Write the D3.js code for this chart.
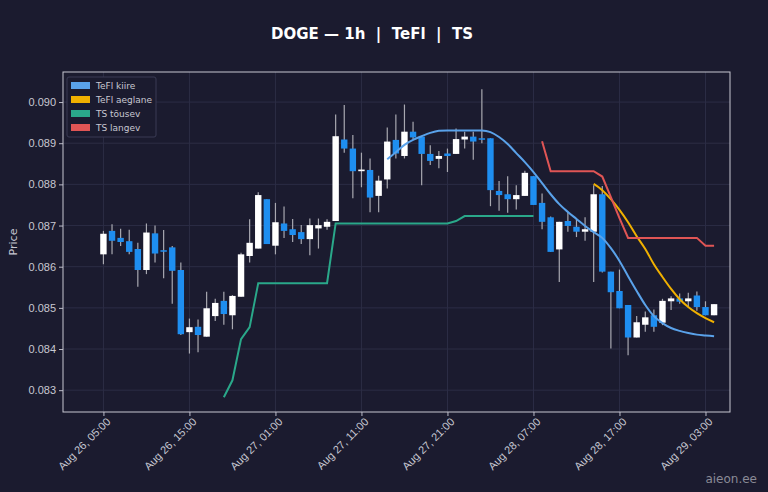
<!DOCTYPE html>
<html><head><meta charset="utf-8">
<script src="https://cdn.jsdelivr.net/npm/d3@7"></script>
<style>body{margin:0;background:#1b1b2f;}svg{display:block;font-family:"DejaVu Sans",sans-serif;}</style>
</head><body><svg id="c" width="768" height="492"></svg>
<script>
// candle index i = hours since Aug 26 05:00
const opens  = [.0863,.08687,.0867,.08662,.08643,.08592,.08681,.0864,.08647,.08592,.08441,.08454,.0843,.0848,.08517,.08482,.08527,.08626,.08644,.08764,.08651,.08705,.08691,.08684,.08667,.08693,.08697,.08711,.08909,.08887,.08832,.08835,.08772,.08812,.08908,.08869,.08928,.08916,.08874,.08862,.08875,.08874,.08909,.08916,.08912,.08912,.08784,.08776,.08764,.08772,.0882,.08755,.0872,.08642,.08711,.08697,.08685,.08685,.08776,.08588,.08541,.08507,.08428,.08459,.08482,.08464,.08516,.08523,.08516,.0853,.08502,.08482];
const highs  = [.08687,.08703,.08692,.0869,.08658,.08705,.087,.08689,.0865,.0861,.08474,.08472,.08539,.08522,.08539,.08531,.08634,.08715,.08781,.08764,.08755,.08746,.08716,.08701,.08717,.08717,.08715,.0897,.08993,.0892,.08877,.08863,.08821,.08938,.0897,.08994,.08952,.08916,.08895,.08881,.08887,.08936,.08928,.08928,.09031,.08912,.08808,.0882,.08798,.08833,.0882,.08778,.08722,.08709,.08734,.08717,.0872,.08798,.08796,.08588,.08593,.08507,.0848,.08491,.08496,.08522,.08528,.08535,.08537,.0854,.08516,.08509];
const lows   = [.08606,.0863,.0865,.0863,.08551,.08582,.0861,.08572,.0851,.08434,.08389,.08392,.0843,.08468,.08459,.08448,.08527,.0861,.08644,.08655,.0863,.0867,.0866,.08655,.08628,.08644,.0869,.08711,.08877,.08766,.08793,.08732,.08732,.0879,.08863,.08863,.0891,.08798,.08847,.08839,.0883,.08874,.08887,.0886,.089,.08747,.08736,.08731,.08739,.08772,.0875,.08691,.08636,.08563,.08685,.08672,.08663,.08563,.08586,.08401,.08499,.08385,.08428,.08442,.08442,.08458,.08495,.0851,.08501,.08493,.08482,.08482];
const closes = [.0868,.08663,.0866,.08636,.08592,.08683,.08632,.08639,.0859,.08436,.08453,.08434,.08499,.08512,.08485,.08529,.0863,.08658,.08774,.08655,.08708,.08687,.08677,.08667,.08701,.08701,.08709,.08917,.08887,.08832,.08836,.08768,.08809,.08904,.08875,.08928,.08914,.08874,.08857,.08869,.08869,.0891,.08916,.08904,.08911,.08786,.08774,.08764,.08774,.08828,.0875,.08709,.08636,.08709,.08699,.08685,.08691,.08776,.08588,.08538,.08499,.08428,.08465,.08477,.08454,.08517,.08523,.08515,.08523,.08502,.08482,.08509];
const tefiFastStart = 33;
const tefiFast = [.08861,.08878,.08896,.08908,.08917,.08925,.0893,.08931,.08931,.08931,.08931,.08931,.08927,.08915,.08898,.08876,.08854,.0883,.08803,.08776,.08752,.08733,.08716,.08699,.08684,.0867,.08645,.08614,.08577,.08541,.08507,.0848,.08463,.08451,.08444,.08439,.08435,.08433,.08431];
const tefiSlowStart = 57;
const tefiSlow = [.08801,.08786,.08764,.08738,.08708,.08674,.08643,.08606,.08575,.08546,.08521,.08502,.08487,.08475,.08465];
const tsUpStart = 14;
const tsUp = [.08283,.08324,.08424,.08453,.0856,.0856,.0856,.0856,.0856,.0856,.0856,.0856,.0856,.08705,.08705,.08705,.08705,.08705,.08705,.08705,.08705,.08705,.08705,.08705,.08705,.08705,.08705,.08711,.08723,.08723,.08723,.08723,.08723,.08723,.08723,.08723,.08723];
const tsDownStart = 51;
const tsDown = [.08905,.08832,.08832,.08832,.08832,.08832,.08832,.08819,.08769,.08718,.0867,.0867,.0867,.0867,.0867,.0867,.0867,.0867,.0867,.08651,.08651];
const xTickIdx = [0,10,20,30,40,50,60,70];
const xTickLabels = ["Aug 26, 05:00","Aug 26, 15:00","Aug 27, 01:00","Aug 27, 11:00","Aug 27, 21:00","Aug 28, 07:00","Aug 28, 17:00","Aug 29, 03:00"];
const yTicks = [.083,.084,.085,.086,.087,.088,.089,.090];
const legendNames = ["TeFl kiire","TeFl aeglane","TS tõusev","TS langev"];
const colors = ["#5aa2ea","#f0b000","#2aa88a","#e05555"];

const svg = d3.select("#c");
svg.append("rect").attr("width",768).attr("height",492).attr("fill","#1b1b2f");
const L=63,R=730,T=72,B=412;
const x = d3.scaleLinear().domain([-4.7,72.85]).range([L,R]);
const y = d3.scaleLinear().domain([.08247,.09073]).range([B,T]);
const g = svg.append("g");
// grid
g.selectAll(".gy").data(yTicks).join("line").attr("x1",L).attr("x2",R).attr("y1",d=>y(d)).attr("y2",d=>y(d)).attr("stroke","#2c2d45").attr("stroke-width",1);
g.selectAll(".gx").data(xTickIdx).join("line").attr("y1",T).attr("y2",B).attr("x1",d=>x(d)).attr("x2",d=>x(d)).attr("stroke","#2c2d45").attr("stroke-width",1);
// axes
const ya = svg.append("g").attr("transform",`translate(${L},0)`).call(d3.axisLeft(y).tickValues(yTicks).tickFormat(d3.format(".3f")).tickSize(4));
const xa = svg.append("g").attr("transform",`translate(0,${B})`).call(d3.axisBottom(x).tickValues(xTickIdx).tickFormat((d,i)=>xTickLabels[i]).tickSize(4));
[ya,xa].forEach(a=>{a.select(".domain").remove();a.selectAll("line").attr("stroke","#bbbbc8");a.selectAll("text").attr("fill","#c8c8d2").attr("font-size",11);});
xa.selectAll("text").attr("text-anchor","end").attr("dx","-0.2em").attr("dy","0.5em").attr("transform","rotate(-45)");
svg.append("rect").attr("x",L).attr("y",T).attr("width",R-L).attr("height",B-T).attr("fill","none").attr("stroke","#c8c8d2").attr("stroke-width",1);
// candles
const idx = d3.range(opens.length);
const cg = svg.append("g");
cg.selectAll(".w").data(idx).join("line").attr("x1",i=>x(i)).attr("x2",i=>x(i)).attr("y1",i=>y(highs[i])).attr("y2",i=>y(lows[i])).attr("stroke","#a8a8b0").attr("stroke-width",1.2);
cg.selectAll(".b").data(idx).join("rect").attr("x",i=>x(i)-3.2).attr("width",6.4)
  .attr("y",i=>y(Math.max(opens[i],closes[i]))).attr("height",i=>Math.max(1.5,Math.abs(y(opens[i])-y(closes[i]))))
  .attr("fill",i=>closes[i]>=opens[i]?"#ffffff":"#1e8ef0");
// lines
const line = st => d3.line().x((d,k)=>x(st+k)).y(d=>y(d));
const lines=[[tefiFast,tefiFastStart,d3.curveMonotoneX],[tefiSlow,tefiSlowStart,d3.curveMonotoneX],[tsUp,tsUpStart,d3.curveLinear],[tsDown,tsDownStart,d3.curveLinear]];
lines.forEach((l,k)=>svg.append("path").attr("d",line(l[1]).curve(l[2])(l[0])).attr("fill","none").attr("stroke",colors[k]).attr("stroke-width",2));
// legend
const lg=svg.append("g");
lg.append("rect").attr("x",67).attr("y",77).attr("width",89).attr("height",60).attr("rx",2).attr("fill","#1b1b2f").attr("stroke","#3a3b55");
legendNames.forEach((n,k)=>{
  lg.append("rect").attr("x",71).attr("y",82+k*14).attr("width",19).attr("height",7).attr("fill",colors[k]);
  lg.append("text").attr("x",96).attr("y",89+k*14).text(n).attr("fill","#c8c8d2").attr("font-size",9);
});
svg.append("text").attr("x",372).attr("y",39).attr("text-anchor","middle").attr("fill","#ffffff").attr("font-weight","bold").attr("font-size",15).text("DOGE — 1h  |  TeFl  |  TS").attr("xml:space","preserve").style("white-space","pre");
svg.append("text").attr("transform","translate(17,242) rotate(-90)").attr("text-anchor","middle").attr("fill","#c8c8d2").attr("font-size",11).text("Price");
svg.append("text").attr("x",757).attr("y",483).attr("text-anchor","end").attr("fill","#8a8a96").attr("font-size",12).text("aieon.ee");
</script></body></html>
